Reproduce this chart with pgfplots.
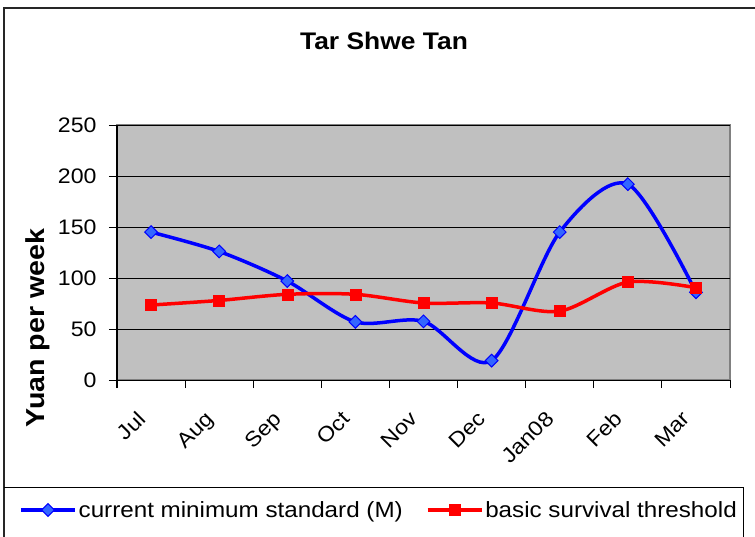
\documentclass[border=0pt]{standalone}
\usepackage{fontspec}
\setmainfont[FakeStretch=1.1]{Liberation Sans}
\usepackage{pgfplots}
\pgfplotsset{compat=1.18}
\definecolor{plotgray}{HTML}{C0C0C0}
\definecolor{markblue}{HTML}{3366FF}
\newcommand{\chartfont}{\fontsize{21}{25}\selectfont}
\newcommand{\legendfont}{\fontsize{22}{26}\selectfont}
\begin{document}
\begin{tikzpicture}[x=1pt,y=1pt]
\begin{axis}[
  at={(117pt,156pt)}, anchor=south west,
  scale only axis, width=613pt, height=255pt,
  xmin=-0.5, xmax=8.5, ymin=0, ymax=250,
  xtick={-0.5,0.5,1.5,2.5,3.5,4.5,5.5,6.5,7.5,8.5},
  xticklabels={},
  extra x ticks={0,1,2,3,4,5,6,7,8},
  extra x tick labels={Jul,Aug,Sep,Oct,Nov,Dec,Jan08,Feb,Mar},
  extra x tick style={major tick length=0pt,
    tick label style={xshift=-15pt, yshift=-25pt, rotate=45, anchor=north east}},
  ytick={0,50,100,150,200,250},
  yticklabel style={xshift=-9pt},
  ymajorgrids, major grid style={black, line width=0.8pt},
  axis background/.style={fill=plotgray, draw=gray, line width=1.5pt},
  axis x line*=bottom, axis y line*=left,
  axis line style={black, line width=1pt, -},
  tick align=outside, major tick length=8pt,
  tick style={black, line width=1pt},
  tick label style={font=\chartfont},
  /pgf/number format/assume math mode=true,
  legend columns=2,
  legend cell align=left,
  legend style={at={(axis description cs:-0.1648,-0.5098)}, anchor=west,
    draw=none, fill=none, font=\legendfont,
    /tikz/every even column/.append style={column sep=21pt}},
  legend image code/.code={\draw[mark repeat=2,mark phase=2,#1] plot coordinates {(0pt,0pt)(27pt,0pt)(54pt,0pt)};},
]
\addplot[blue, line width=3.5pt, smooth, mark=square*, mark size=4.5pt,
  mark options={rotate=45, fill=markblue, draw=blue, line width=1pt}]
  coordinates {(0,145)(1,126)(2,97)(3,57)(4,57.5)(5,19)(6,145)(7,192)(8,86)};
\addlegendentry{current minimum standard (M)}
\addplot[red, line width=3.5pt, smooth, mark=square*, mark size=5.5pt,
  mark options={fill=red, draw=red, line width=0.5pt}]
  coordinates {(0,73.5)(1,78)(2,84)(3,84)(4,75.5)(5,75.5)(6,67.5)(7,96)(8,90.5)};
\addlegendentry{basic survival threshold}
\end{axis}
\node[font=\fontsize{24}{28}\selectfont\bfseries] at (384,495) {Tar Shwe Tan};
\node[font=\fontsize{26}{30}\selectfont\bfseries, rotate=90] at (38,208) {Yuan per week};
\draw[line width=1.5pt, black!85] (4,-20) |- (775,528);
\draw[line width=1pt, black] (4,49) -- (743,49) -- (743,-20);
\pgfresetboundingbox
\useasboundingbox (0,0) rectangle (755,536);
\end{tikzpicture}
\end{document}
